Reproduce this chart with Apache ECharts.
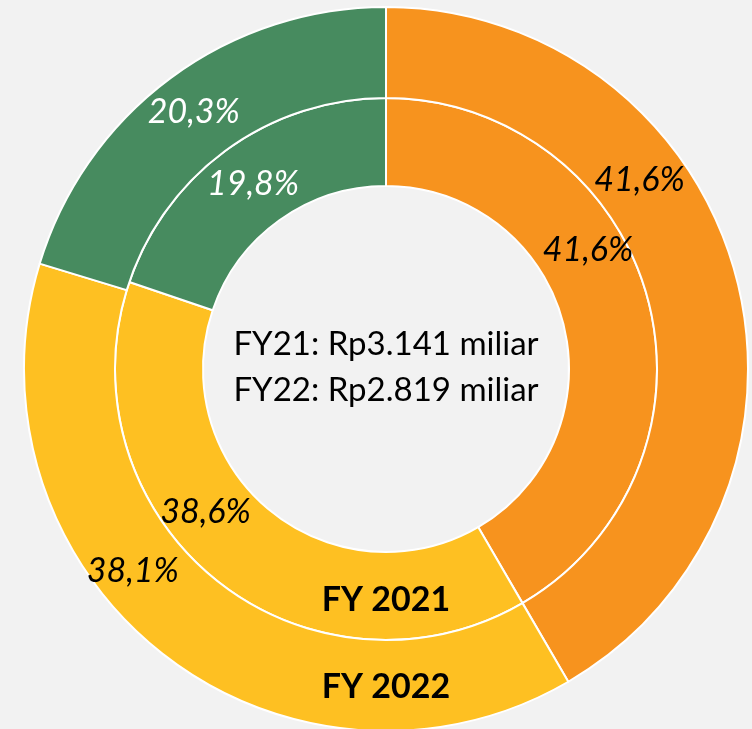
<!DOCTYPE html>
<html>
<head>
<meta charset="utf-8">
<script src="https://cdn.jsdelivr.net/npm/echarts@6/dist/echarts.min.js"></script>
<style>
html,body{margin:0;padding:0;background:#f2f2f2;}
#chart{width:752px;height:729px;}
</style>
</head>
<body>
<div id="chart"></div>
<script>
// Data
const categories = ['Oranye', 'Kuning', 'Hijau'];
const fy2021Values = [41.6, 38.6, 19.8];
const fy2022Values = [41.6, 38.1, 20.3];
const ringNames = ['FY 2021', 'FY 2022'];
const centerLines = ['FY21: Rp3.141 miliar', 'FY22: Rp2.819 miliar'];

// Styling (kept separate from data)
const colors = ['#F7931E', '#FEC022', '#478B5F'];
const labelColors = ['#000000', '#000000', '#ffffff'];
const innerOffsets = [[-20, -59], [-35, -35], [1, 2]];
const outerOffsets = [[-55, -106], [-55, -49], [-2, 0]];
const FONT = 'Lato';

function buildData(values, offsets) {
  return values.map((v, i) => ({
    name: categories[i],
    value: v,
    itemStyle: { color: colors[i] },
    label: { color: labelColors[i], offset: offsets[i] }
  }));
}

const labelCommon = {
  show: true,
  position: 'inside',
  fontFamily: FONT,
  fontStyle: 'italic',
  fontSize: 34,
  formatter: p => p.value.toFixed(1).replace('.', ',') + '%'
};

const chart = echarts.init(document.getElementById('chart'), null, { renderer: 'canvas' });
chart.setOption({
  backgroundColor: '#f2f2f2',
  animation: false,
  graphic: [
    { type: 'text', x: 386, y: 367, style: { text: centerLines.join('\n'), font: '33px ' + FONT, lineHeight: 46, fill: '#000', align: 'center', verticalAlign: 'middle' }, z: 100 },
    { type: 'text', x: 386, y: 600, style: { text: ringNames[0], font: 'bold 34px ' + FONT, fill: '#000', align: 'center', verticalAlign: 'middle' }, z: 100 },
    { type: 'text', x: 386, y: 687, style: { text: ringNames[1], font: 'bold 34px ' + FONT, fill: '#000', align: 'center', verticalAlign: 'middle' }, z: 100 }
  ],
  series: [
    {
      type: 'pie',
      center: [386, 369],
      radius: [183, 271],
      startAngle: 90,
      clockwise: true,
      avoidLabelOverlap: false,
      itemStyle: { borderColor: '#ffffff', borderWidth: 2 },
      label: labelCommon,
      labelLine: { show: false },
      emphasis: { disabled: true },
      data: buildData(fy2021Values, innerOffsets)
    },
    {
      type: 'pie',
      center: [386, 369],
      radius: [271, 362],
      startAngle: 90,
      clockwise: true,
      avoidLabelOverlap: false,
      itemStyle: { borderColor: '#ffffff', borderWidth: 2 },
      label: labelCommon,
      labelLine: { show: false },
      emphasis: { disabled: true },
      data: buildData(fy2022Values, outerOffsets)
    }
  ]
});
</script>
</body>
</html>
